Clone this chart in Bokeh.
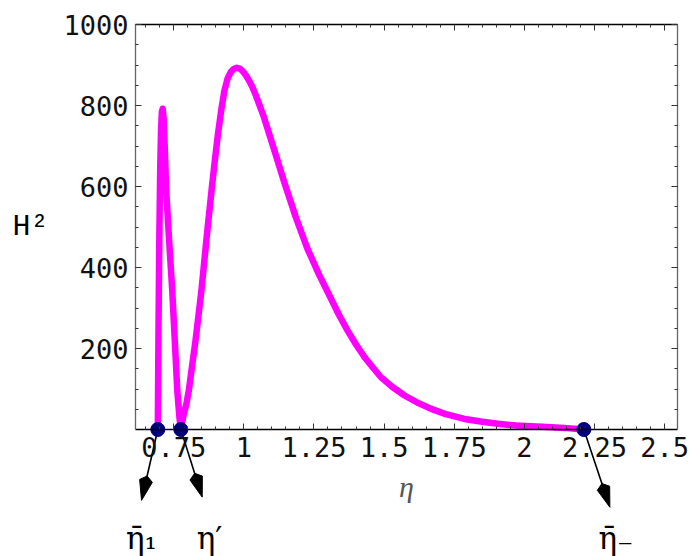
import numpy as np
from bokeh.plotting import figure
from bokeh.models import LinearAxis, FixedTicker, Range1d
from bokeh.core.properties import value
from bokeh.embed import file_html
from bokeh.resources import INLINE

# ---------------- data ----------------
eta = [0.6935, 0.6960, 0.6990, 0.7020, 0.7050, 0.7080, 0.7110, 0.7140, 0.7174,
       0.7235, 0.7340, 0.7450, 0.7540, 0.7630, 0.7700, 0.7755, 0.7790, 0.7850,
       0.7950, 0.8040, 0.8160, 0.8280, 0.8490, 0.8670, 0.8850, 0.8970, 0.9080,
       0.9200, 0.9310, 0.9420, 0.9530, 0.9640, 0.9750, 0.9860, 0.9970, 1.0080,
       1.0200, 1.0310, 1.0430, 1.0700, 1.0960, 1.1200, 1.1440, 1.1850, 1.2270,
       1.2700, 1.3110, 1.3400, 1.3700, 1.4000, 1.4300, 1.4600, 1.4890, 1.5300,
       1.5730, 1.6200, 1.6680, 1.7200, 1.7870, 1.8500, 1.9060, 1.9700, 2.0250,
       2.0800, 2.1430, 2.2122]
H2 = [0, 250, 480, 640, 740, 785, 792, 770, 714,
      590, 465, 343, 220, 96, 35, 0, 12, 35,
      62, 96, 158, 220, 343, 470, 590, 665, 730,
      790, 837, 866, 882, 890, 893, 891, 884, 874,
      860, 845, 825, 775, 718, 665, 611, 525, 446,
      380, 323, 282, 244, 210, 179, 153, 129, 105,
      84, 66, 51, 38, 26, 19, 14, 10, 8,
      6, 4, 0]

root_eta = [0.6935, 0.7755, 2.2122]
root_H2 = [0, 0, 0]

arrow_tip_eta = [0.6354, 0.8518, 2.3049]
arrow_tip_H2 = [-175, -167, -192]

label_text = ["\u03b7\u0304\u2081", "\u03b7\u2032", "\u03b7\u0304\u208b"]
label_eta = [0.580, 0.832, 2.264]
label_H2 = [-267, -267, -267]

x_major = [0.75, 1.0, 1.25, 1.5, 1.75, 2.0, 2.25, 2.5]
x_tick_labels = ["0.75", "1", "1.25", "1.5", "1.75", "2", "2.25", "2.5"]
x_minor = [round(0.65 + 0.05 * i, 2) for i in range(38)]
y_major = [200, 400, 600, 800, 1000]
y_tick_labels = ["200", "400", "600", "800", "1000"]
y_minor = [50 * i for i in range(1, 21)]

# ---------------- layout ----------------
W, HT = 690, 556
ETA_MIN, ETA_MAX = 0.614, 2.546
H2_MIN, H2_MAX = 0.0, 1000.0
PX_LEFT, PX_RIGHT, PX_TOP, PX_BOTTOM = 135, 677, 24, 429

kx = (PX_RIGHT - PX_LEFT) / (ETA_MAX - ETA_MIN)
ky = (PX_BOTTOM - PX_TOP) / (H2_MAX - H2_MIN)
x_start = ETA_MIN - PX_LEFT / kx
x_end = x_start + W / kx
y_end = H2_MAX + PX_TOP / ky
y_start = y_end - HT / ky

p = figure(width=W, height=HT,
           x_range=Range1d(x_start, x_end), y_range=Range1d(y_start, y_end),
           output_backend="svg", toolbar_location=None, min_border=0)
p.outline_line_color = None
p.grid.visible = False
p.background_fill_color = "white"
p.border_fill_color = "white"

bottom = p.xaxis[0]
left = p.yaxis[0]
top = LinearAxis()
right = LinearAxis()
p.add_layout(top, "above")
p.add_layout(right, "right")

bottom.fixed_location = H2_MIN
bottom.bounds = (ETA_MIN, ETA_MAX)
top.fixed_location = H2_MAX
top.bounds = (ETA_MIN, ETA_MAX)
left.fixed_location = ETA_MIN
left.bounds = (H2_MIN, H2_MAX)
right.fixed_location = ETA_MAX
right.bounds = (H2_MIN, H2_MAX)

for ax, ticks, minors, color in [(bottom, x_major, x_minor, "black"),
                                 (top, x_major, x_minor, "black"),
                                 (left, y_major, y_minor, "#666666"),
                                 (right, y_major, y_minor, "#666666")]:
    ax.ticker = FixedTicker(ticks=ticks, minor_ticks=minors)
    ax.axis_line_color = color
    ax.axis_line_width = 1.3
    ax.major_tick_line_color = "#333333"
    ax.minor_tick_line_color = "#333333"
    ax.major_tick_in = 6
    ax.major_tick_out = 0
    ax.minor_tick_in = 3
    ax.minor_tick_out = 0
    ax.major_label_text_font = "DejaVu Sans Mono"
    ax.major_label_text_font_size = "27px"
    ax.major_label_text_color = "#111111"

bottom.major_label_overrides = {t: s for t, s in zip(x_major, x_tick_labels)}
left.major_label_overrides = {t: s for t, s in zip(y_major, y_tick_labels)}
top.major_label_overrides = {t: "" for t in x_major}
right.major_label_overrides = {t: "" for t in y_major}
top.major_label_text_color = None
right.major_label_text_color = None

bottom.major_label_standoff = 7
left.major_label_standoff = 7

bottom.axis_label = "\u03b7"
bottom.axis_label_text_font = "Liberation Serif"
bottom.axis_label_text_font_style = "italic"
bottom.axis_label_text_font_size = "30px"
bottom.axis_label_text_color = "#555555"
bottom.axis_label_standoff = 10

left.axis_label = "H\u00b2"
left.axis_label_orientation = "horizontal"
left.axis_label_text_font = "Liberation Mono"
left.axis_label_text_font_style = "normal"
left.axis_label_text_font_size = "30px"
left.axis_label_text_color = "black"
left.axis_label_standoff = 12

# ---------------- curve and points ----------------
p.line(eta, H2, line_color="#FF00FF", line_width=6.5, line_join="round", line_cap="round")

# arrows: shaft + kite-shaped head computed in screen space
shaft_x0, shaft_y0, shaft_x1, shaft_y1 = [], [], [], []
head_xs, head_ys = [], []
for sx, sy, tx, ty in zip(root_eta, root_H2, arrow_tip_eta, arrow_tip_H2):
    dx = (tx - sx) * kx
    dy = (ty - sy) * ky
    L = np.hypot(dx, dy)
    ux, uy = dx / L, dy / L
    nx, ny = -uy, ux

    def pt(a, b):
        return (tx + (a * ux + b * nx) / kx, ty + (a * uy + b * ny) / ky)

    verts = [pt(0, 0), pt(-20, 6.5), pt(-25, 0), pt(-20, -6.5)]
    head_xs.append([v[0] for v in verts])
    head_ys.append([v[1] for v in verts])
    bx, by = pt(-23, 0)
    shaft_x0.append(sx); shaft_y0.append(sy)
    shaft_x1.append(bx); shaft_y1.append(by)

p.segment(shaft_x0, shaft_y0, shaft_x1, shaft_y1, line_color="black", line_width=1.6)
p.patches(head_xs, head_ys, fill_color="black", line_color="black", line_width=1)

p.scatter(root_eta, root_H2, size=14, marker="circle", fill_color="#00007F", line_color="#00007F")

p.text(label_eta, label_H2, text=label_text, text_font=value("DejaVu Serif"),
       text_font_size="31px", text_baseline="alphabetic", text_align="left",
       text_color="black")

open("out.html", "w").write(file_html(p, INLINE))
